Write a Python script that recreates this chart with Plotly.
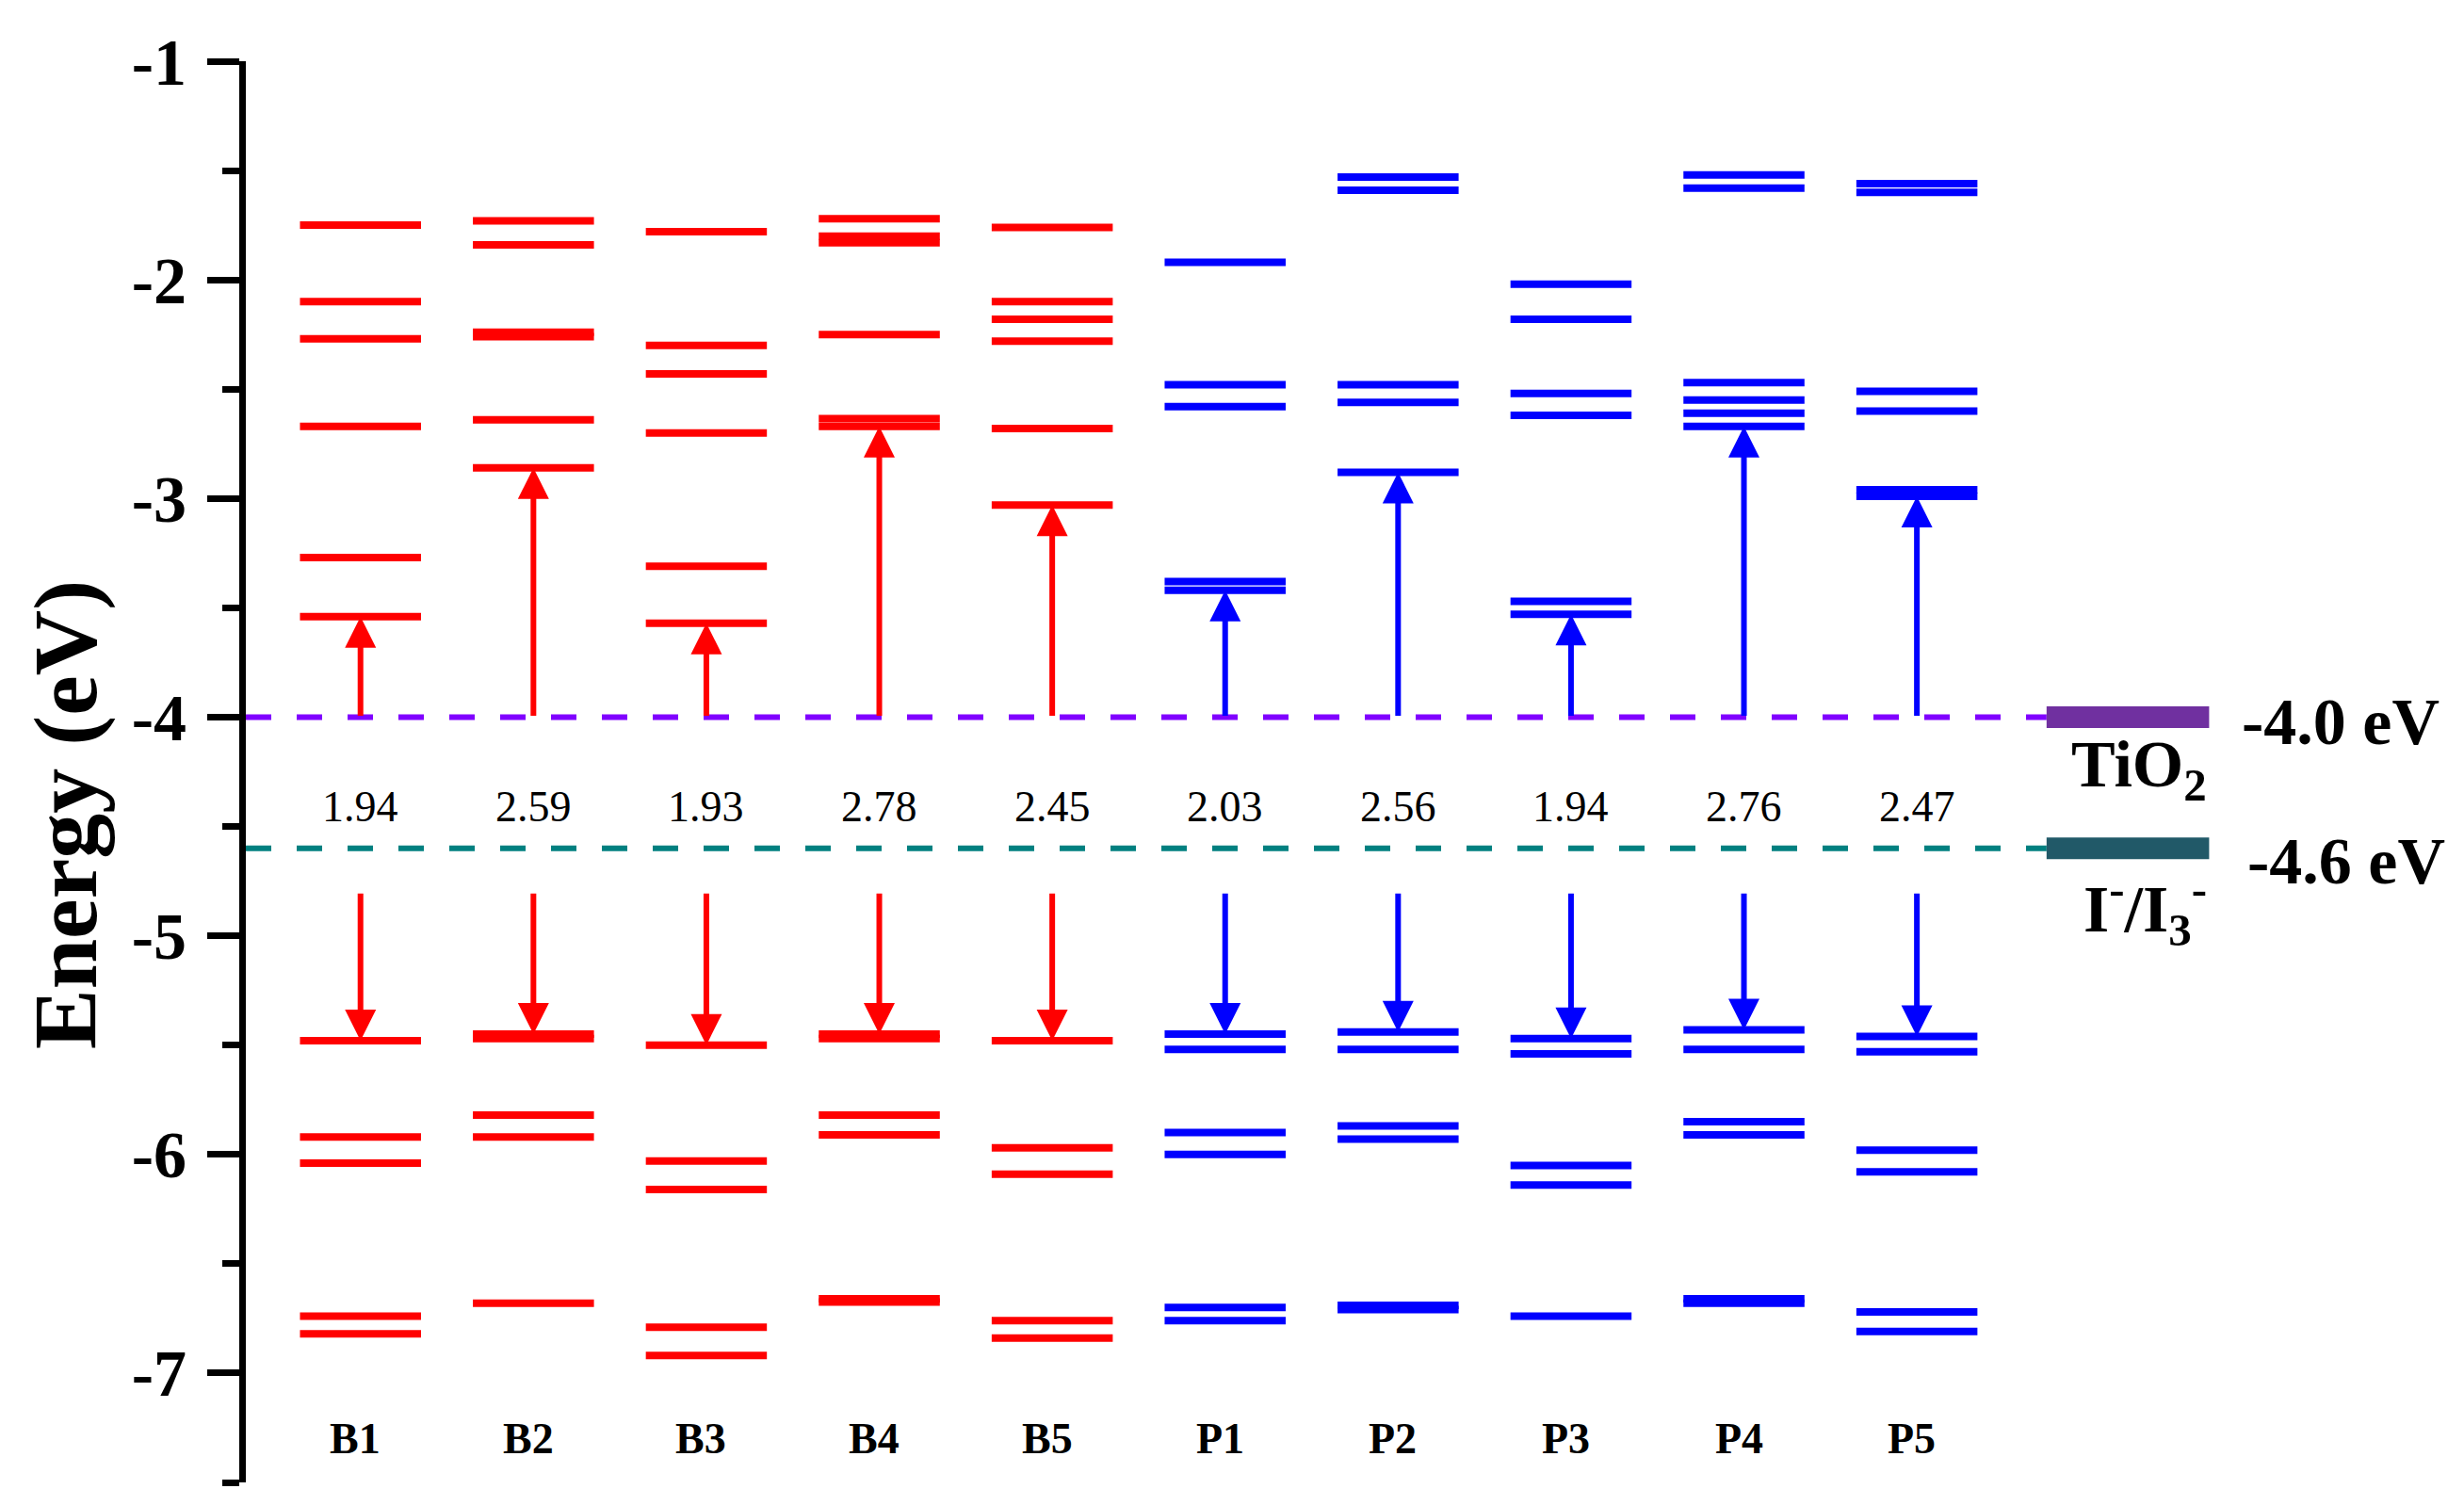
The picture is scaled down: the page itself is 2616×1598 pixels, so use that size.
import plotly.graph_objects as go

# ---------------- data ----------------
categories = ["B1", "B2", "B3", "B4", "B5", "P1", "P2", "P3", "P4", "P5"]
series_color = ["red"] * 5 + ["blue"] * 5

# unoccupied levels (eV)
lumo_levels = [
    [-1.75, -2.10, -2.27, -2.67, -3.27, -3.54],
    [-1.73, -1.84, -2.24, -2.26, -2.64, -2.86],
    [-1.78, -2.30, -2.43, -2.70, -3.31, -3.57],
    [-1.72, -1.80, -1.83, -2.25, -2.635, -2.67],
    [-1.76, -2.10, -2.18, -2.28, -2.68, -3.03],
    [-1.92, -2.48, -2.58, -3.38, -3.42],
    [-1.53, -1.59, -2.48, -2.56, -2.88],
    [-2.02, -2.18, -2.52, -2.62, -3.47, -3.53],
    [-1.52, -1.58, -2.47, -2.55, -2.61, -2.67],
    [-1.56, -1.60, -2.51, -2.60, -2.96, -2.99],
]
# occupied levels (eV)
homo_levels = [
    [-5.48, -5.92, -6.04, -6.74, -6.82],
    [-5.45, -5.47, -5.82, -5.92, -6.68],
    [-5.50, -6.03, -6.16, -6.79, -6.92],
    [-5.45, -5.47, -5.82, -5.91, -6.66, -6.675],
    [-5.48, -5.97, -6.09, -6.76, -6.84],
    [-5.45, -5.52, -5.90, -6.00, -6.70, -6.76],
    [-5.44, -5.52, -5.87, -5.93, -6.69, -6.71],
    [-5.47, -5.54, -6.05, -6.14, -6.74],
    [-5.43, -5.52, -5.85, -5.91, -6.66, -6.68],
    [-5.46, -5.53, -5.98, -6.08, -6.72, -6.81],
]
gap_labels = ["1.94", "2.59", "1.93", "2.78", "2.45", "2.03", "2.56", "1.94", "2.76", "2.47"]

tio2_level = -4.0
redox_level = -4.6
down_arrow_start = -4.80
gap_label_y = -4.41
cat_label_y = -7.30

y_tickvals = [-1, -2, -3, -4, -5, -6, -7]
y_ticktext = ["-1", "-2", "-3", "-4", "-5", "-6", "-7"]

# ---------------- figure ----------------
FONT = "Liberation Serif"
xs = list(range(1, len(categories) + 1))
half = 0.35
color_map = {"red": "#FF0000", "blue": "#0000FF"}

fig = go.Figure()

for cname in ["red", "blue"]:
    lx, ly = [], []
    for i, c in enumerate(categories):
        if series_color[i] != cname:
            continue
        for e in lumo_levels[i] + homo_levels[i]:
            lx += [xs[i] - half, xs[i] + half, None]
            ly += [e, e, None]
    fig.add_trace(go.Scatter(x=lx, y=ly, mode="lines",
                             line=dict(color=color_map[cname], width=8),
                             hoverinfo="skip", showlegend=False))

x_axis_left = 0.337
bar_left, bar_right = 10.75, 11.69

# dashed reference lines
fig.add_trace(go.Scatter(x=[x_axis_left, bar_left], y=[tio2_level, tio2_level], mode="lines",
                         line=dict(color="#8000FF", width=6, dash="27px,27px"),
                         hoverinfo="skip", showlegend=False))
fig.add_trace(go.Scatter(x=[x_axis_left, bar_left], y=[redox_level, redox_level], mode="lines",
                         line=dict(color="#008080", width=6, dash="27px,27px"),
                         hoverinfo="skip", showlegend=False))
# TiO2 and redox bars
fig.add_trace(go.Scatter(x=[bar_left, bar_right], y=[tio2_level, tio2_level], mode="lines",
                         line=dict(color="#7030A0", width=23),
                         hoverinfo="skip", showlegend=False))
fig.add_trace(go.Scatter(x=[bar_left, bar_right], y=[redox_level, redox_level], mode="lines",
                         line=dict(color="#215968", width=23),
                         hoverinfo="skip", showlegend=False))

annotations = []
for i, c in enumerate(categories):
    col = color_map[series_color[i]]
    lumo = min(lumo_levels[i])
    homo = max(homo_levels[i])
    # up arrow (TiO2 level -> LUMO)
    annotations.append(dict(x=xs[i], y=lumo, ax=xs[i], ay=tio2_level, xref="x", yref="y",
                            axref="x", ayref="y", text="", showarrow=True,
                            arrowhead=2, arrowsize=1.1, arrowwidth=6, arrowcolor=col, standoff=0))
    # down arrow (-> HOMO)
    annotations.append(dict(x=xs[i], y=homo, ax=xs[i], ay=down_arrow_start, xref="x", yref="y",
                            axref="x", ayref="y", text="", showarrow=True,
                            arrowhead=2, arrowsize=1.1, arrowwidth=6, arrowcolor=col, standoff=0))
    annotations.append(dict(x=xs[i], y=gap_label_y, xref="x", yref="y", text=gap_labels[i],
                            showarrow=False, font=dict(family=FONT, size=46, color="black")))
    annotations.append(dict(x=xs[i] - 0.03, y=cat_label_y, xref="x", yref="y", text="<b>%s</b>" % c,
                            showarrow=False, font=dict(family=FONT, size=46, color="black")))

annotations += [
    dict(x=11.87, y=-4.02, xref="x", yref="y", xanchor="left", text="<b>-4.0 eV</b>",
         showarrow=False, font=dict(family=FONT, size=70, color="black")),
    dict(x=11.90, y=-4.66, xref="x", yref="y", xanchor="left", text="<b>-4.6 eV</b>",
         showarrow=False, font=dict(family=FONT, size=70, color="black")),
    dict(x=bar_right, y=-4.24, xref="x", yref="y", xanchor="right", text="<b>TiO<sub>2</sub></b>",
         showarrow=False, font=dict(family=FONT, size=70, color="black")),
    dict(x=bar_right, y=-4.88, xref="x", yref="y", xanchor="right",
         text="<b>I<sup>-</sup>/I<sub>3</sub><sup>-</sup></b>",
         showarrow=False, font=dict(family=FONT, size=70, color="black")),
    dict(x=-0.081, y=0.47, xref="paper", yref="paper", xanchor="center", yanchor="middle",
         text="<b>Energy (eV)</b>", textangle=-90,
         showarrow=False, font=dict(family=FONT, size=96, color="black")),
]

fig.update_layout(
    width=2616, height=1598,
    margin=dict(l=253, r=0, t=57, b=32),
    paper_bgcolor="white", plot_bgcolor="white",
    font=dict(family=FONT, color="black"),
    showlegend=False,
    annotations=annotations,
    xaxis=dict(visible=False, range=[x_axis_left, x_axis_left + 2363 / 183.6], fixedrange=True),
    yaxis=dict(range=[-7.5, -1], showline=True, linewidth=7, linecolor="black",
               ticks="outside", ticklen=34, tickwidth=7, tickcolor="black",
               tickvals=y_tickvals, ticktext=y_ticktext,
               tickfont=dict(family=FONT, size=70, color="black", weight="bold"),
               showgrid=False, zeroline=False, ticklabelstandoff=8,
               minor=dict(dtick=0.5, tick0=-1, ticks="outside", ticklen=18, tickwidth=7,
                          tickcolor="black", showgrid=False)),
)

fig.write_html("out.html")
